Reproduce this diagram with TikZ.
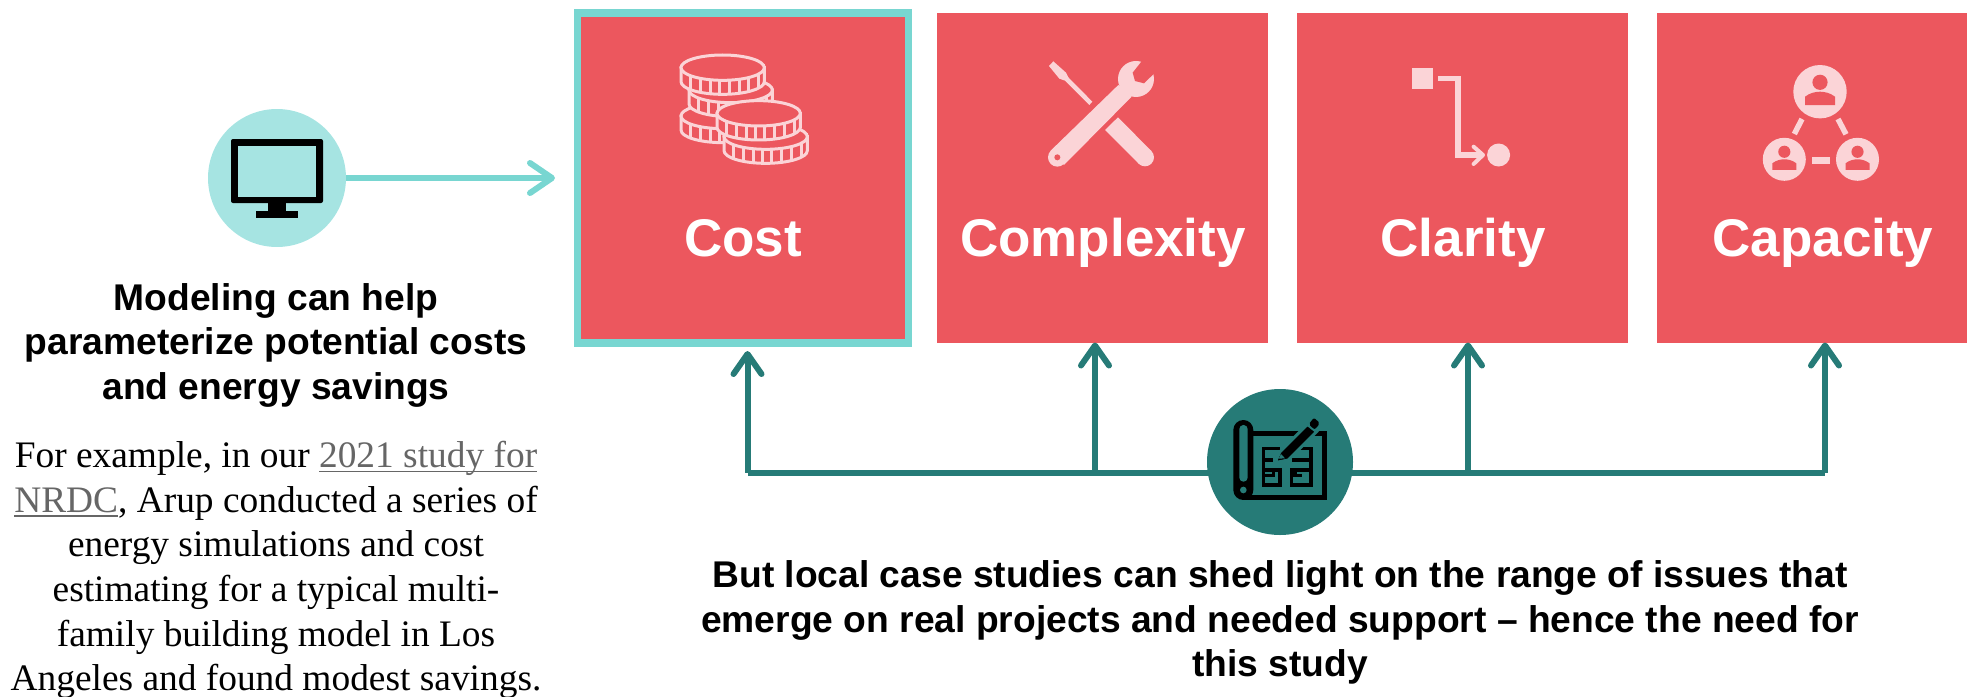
\documentclass[tikz,border=0pt]{standalone}
\usepackage{fontspec}
\setmainfont{Liberation Sans}
\newfontfamily\bodyfont{Liberation Serif}
\usetikzlibrary{arrows.meta}
\definecolor{tilered}{HTML}{EC575E}
\definecolor{tilepink}{HTML}{FBD4D7}
\definecolor{modelteal}{HTML}{78D6D1}
\definecolor{modelpale}{HTML}{A6E4E2}
\definecolor{planteal}{HTML}{267B77}
\definecolor{linkgrey}{HTML}{666666}
\tikzset{
	tile/.style = {fill = tilered, minimum width = 331pt, minimum height = 330pt, inner sep = 0, outer sep = 0},
	tilelabel/.style = {anchor = base, text = white, inner sep = 0, font = \fontsize{53}{53}\selectfont\bfseries},
	heading/.style = {align = center, inner sep = 0, font = \fontsize{37.2}{44.5}\selectfont\bfseries},
	body/.style = {align = center, inner sep = 0, font = \fontsize{37.4}{44.7}\selectfont\bodyfont},
	modelarrow/.style = {line width = 6pt, modelteal, -{Straight Barb[length = 22pt, width = 30pt, round]}},
	planarrow/.style = {line width = 6pt, planteal, -{Straight Barb[length = 20pt, width = 28pt, round]}},
	badge/.style = {circle, inner sep = 0, outer sep = 0}
}
\newcommand{\linked}[1]{\setbox0\hbox{#1}\textcolor{linkgrey}{\rlap{\rule[-5pt]{\wd0}{1.8pt}}\box0}}
% one coin, (x,y) is the middle of its top face
\newcommand{\coin}[2]{
	\begin{scope}[shift = {(#1,#2)}]
	\filldraw[fill = tilered, draw = tilepink, line width = 3pt] (-125,0) -- (-125,42) arc (180:0:125 and 38) -- (125,0) -- cycle;
	\foreach \x in {-96,-68,-38,-10,19,49,77,107}
		\draw[tilepink, line width = 3pt] (\x,{38*sqrt(1-(\x/125)^2)}) -- ++(0,42);
	\filldraw[fill = tilered, draw = tilepink, line width = 3pt] (0,0) ellipse (125 and 38);
	\end{scope}
}
% one person, (x,y) is the middle of the round
\newcommand{\person}[3]{
	\begin{scope}[shift = {(#1,#2)}, x = #3pt, y = -#3pt]
	\fill[tilered] (0,-9.4) circle (7.6 and 7.6);
	\fill[tilered] (-15,13.3) -- (-15,5) .. controls (-10,1) and (-4,0) .. (0,0) .. controls (4,0) and (10,1) .. (15,5) -- (15,13.3) -- cycle;
	\end{scope}
}

\begin{document}
\begin{tikzpicture}[x = 1pt, y = -1pt]
\useasboundingbox (0,0) rectangle (1967,696);

\node[tile, draw = modelteal, line width = 7.5pt] (cost) at (743,178) {};
\node[tile] (complexity) at (1102.5,177.5) {};
\node[tile] (clarity) at (1462.5,177.5) {};
\node[tile] (capacity) at (1822.5,177.5) {};

\node[tilelabel] (costlabel) at (743,256) {Cost};
\node[tilelabel] (complexitylabel) at (1103,256) {Complexity};
\node[tilelabel] (claritylabel) at (1463,256) {Clarity};
\node[tilelabel] (capacitylabel) at (1823,256) {Capacity};

\node[heading] (modeltext) at (276,345) {Modeling can help\\parameterize potential costs\\and energy savings};
\node[body] (example) at (276,570) {For example, in our \linked{2021 study for}\\\linked{NRDC}, Arup conducted a series of\\energy simulations and cost\\estimating for a typical multi-\\family building model in Los\\Angeles and found modest savings.};
\node[heading] (plantext) at (1280,622.5) {But local case studies can shed light on the range of issues that\\emerge on real projects and needed support -- hence the need for\\this study};

\coordinate (buscost) at (747.5,472.5);
\coordinate (buscomplexity) at (1095,472.5);
\coordinate (busclarity) at (1468,472.5);
\coordinate (buscapacity) at (1825,472.5);
\coordinate (tipcost) at (747.5,351);
\coordinate (tipcomplexity) at (1095,342.5);
\coordinate (tipclarity) at (1468,342.5);
\coordinate (tipcapacity) at (1825,342.5);
\coordinate (tipmodel) at (555,178);

\node[badge, fill = modelpale, minimum size = 138pt] (model) at (277,178) {};
\draw[modelarrow] (model) -- (tipmodel);
\draw[planteal, line width = 6pt] (buscost) -- (buscapacity);
\foreach \from/\to in {buscost/tipcost, buscomplexity/tipcomplexity, busclarity/tipclarity, buscapacity/tipcapacity}
	\draw[planarrow] (\from) -- (\to);
\node[badge, fill = planteal, minimum size = 146pt] (plan) at (1280,462) {};

% monitor
\fill[black, rounded corners = 2pt] (231,139) rectangle (323,203);
\fill[modelpale] (238,146) rectangle (316,197);
\fill[black] (268,203) rectangle (286,212);
\fill[black] (256,211) rectangle (298,218);

% coins
\begin{scope}[shift = {(660,30)}, x = 0.3333pt, y = -0.3333pt]
\coin{188}{258}
\coin{212}{180}
\coin{188}{113}
\coin{317}{320}
\coin{296}{250}
\end{scope}

% wrench and screwdriver
\begin{scope}[shift = {(1000,30)}, x = 0.3333pt, y = -0.3333pt]
\fill[tilepink] (147,108) -- (160,94) -- (198,128) -- (205,142) -- (277,215) -- (268,225) -- (195,152) -- (178,146) -- cycle;
\fill[tilepink] (354,262) -- (454,363) -- (416,401) -- (315,300) -- cycle;
\fill[tilepink] (435,382) circle (27);
\fill[tilepink] (408,147) circle (54);
\fill[tilepink] (152,362) -- (355,165) -- (395,200) -- (192,405) -- cycle;
\fill[tilepink] (172,382) circle (28);
\fill[tilered] (172,382) circle (9);
\fill[tilered] (428,90) -- (398,128) -- (405,153) -- (432,160) -- (468,125) -- (470,90) -- cycle;
\end{scope}

% flow mark
\fill[tilepink] (1412,68) rectangle (1433,89);
\draw[tilepink, line width = 5.5pt] (1438,78.7) -- (1458,78.7) -- (1458,155) -- (1480,155);
\draw[tilepink, line width = 4pt, line cap = round, line join = round] (1473.6,146.7) -- (1483,155) -- (1473.6,164);
\fill[tilepink] (1498.6,155) circle (11.5);

% three people
\fill[tilepink] (1820,91.7) circle (26.7);
\fill[tilepink] (1784.3,159.3) circle (21.5);
\fill[tilepink] (1857.5,159.3) circle (21.5);
\person{1820}{91.7}{1}
\person{1784.3}{159.3}{0.8}
\person{1857.5}{159.3}{0.8}
\draw[tilepink, line width = 5.5pt] (1802,119) -- (1794.3,134);
\draw[tilepink, line width = 5.5pt] (1838,119) -- (1846,134.3);
\draw[tilepink, line width = 7pt] (1812,160.3) -- (1830,160.3);

% blueprint
\begin{scope}[shift = {(1180,370)}, x = 0.3333pt, y = -0.3333pt]
\draw[black, line width = 5pt] (215,192) -- (433,192) -- (433,383) -- (190,383);
\fill[black, rounded corners = 10pt] (160,390) rectangle (220,150);
\fill[planteal, rounded corners = 4pt] (178,335) rectangle (203,165);
\fill[planteal] (190,360) circle (10);
\draw[black, line width = 3.5pt] (300,236) -- (250,236) -- (250,345) -- (300,345) -- (300,300) -- (255,300);
\draw[black, line width = 3.5pt] (320,236) -- (393,236) -- (393,345) -- (335,345) -- (335,300) -- (393,300);
\draw[black, line width = 3.5pt] (255,270) -- (280,270) (335,270) -- (393,270);
\draw[black, line width = 3.5pt] (255,317) -- (280,317) -- (280,303) (345,303) -- (345,317) -- (367,317);
% pencil
\filldraw[fill = black, draw = planteal, line width = 3pt] (285,278) -- (300,245) -- (382,163) -- (410,185) -- (325,270) -- cycle;
\fill[planteal] (296,266) -- (303,252) -- (315,265) -- cycle;
\fill[black, rounded corners = 2pt] (386,163) -- (402,143) -- (420,160) -- (404,179) -- cycle;
\end{scope}
\end{tikzpicture}
\end{document}
